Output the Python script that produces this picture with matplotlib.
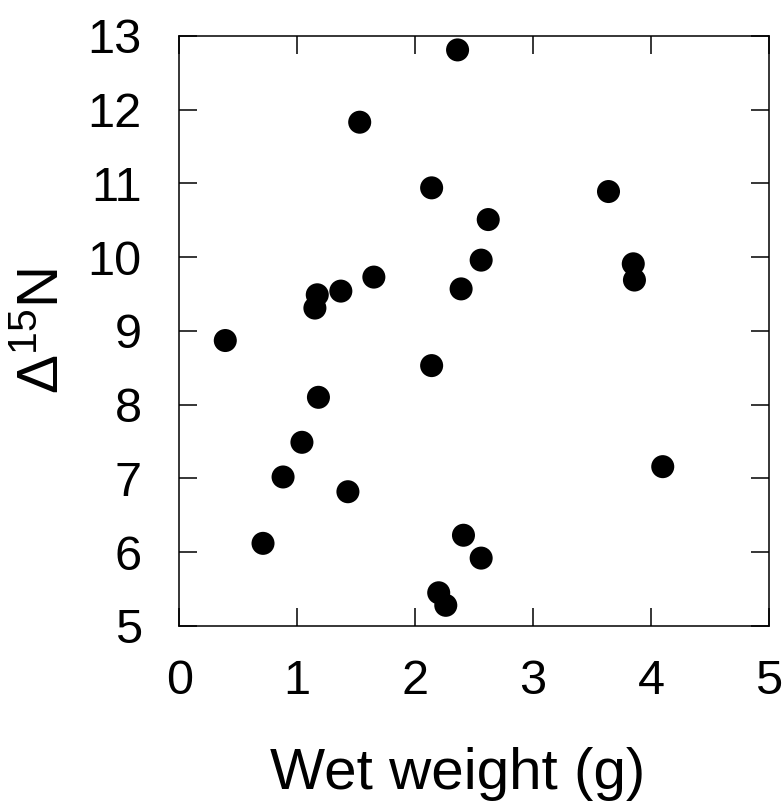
import matplotlib
matplotlib.use('Agg')
import matplotlib.pyplot as plt
import numpy as np

plt.rcParams['font.family'] = ['Liberation Sans', 'DejaVu Sans']
plt.rcParams['mathtext.fontset'] = 'custom'
plt.rcParams['mathtext.rm'] = 'Liberation Sans'
plt.rcParams['mathtext.it'] = 'Liberation Sans:italic'

# wet weight (g) and delta 15N for each fish
wet_weight = [2.36, 1.53, 2.14, 3.64, 2.62, 2.56, 3.85, 3.86, 1.65, 2.39,
              1.37, 1.17, 1.15, 0.39, 2.14, 1.18, 1.04, 0.88, 1.43, 4.10,
              0.71, 2.41, 2.56, 2.20, 2.26]
delta15n = [12.81, 11.83, 10.94, 10.89, 10.51, 9.96, 9.91, 9.69, 9.73, 9.57,
            9.54, 9.49, 9.31, 8.87, 8.53, 8.10, 7.49, 7.02, 6.82, 7.16,
            6.12, 6.23, 5.92, 5.45, 5.28]

xticks = np.arange(0, 6, 1)
yticks = np.arange(5, 14, 1)

fig = plt.figure(figsize=(7.84, 8.05), dpi=100)
ax = fig.add_axes([0.2287, 0.2224, 0.752, 0.733])

ax.scatter(wet_weight, delta15n, s=275, color='black', edgecolors='none', zorder=3)

ax.set_xlim(0, 5)
ax.set_ylim(5, 13)
ax.set_xticks(xticks)
ax.set_yticks(yticks)

for sp in ax.spines.values():
    sp.set_linewidth(1.1)

ax.tick_params(axis='both', which='major', direction='in', length=13, width=1.1,
               top=True, right=True, labelsize=35)
ax.tick_params(axis='x', pad=24)
ax.tick_params(axis='y', pad=27)

ax.set_xlabel('Wet weight (g)', fontsize=42)
ax.set_ylabel(r'$\mathregular{\Delta^{15}N}$', fontsize=42)
ax.xaxis.set_label_coords(0.472, -0.205)
ax.yaxis.set_label_coords(-0.185, 0.5)

fig.savefig('out.png', dpi=100)
